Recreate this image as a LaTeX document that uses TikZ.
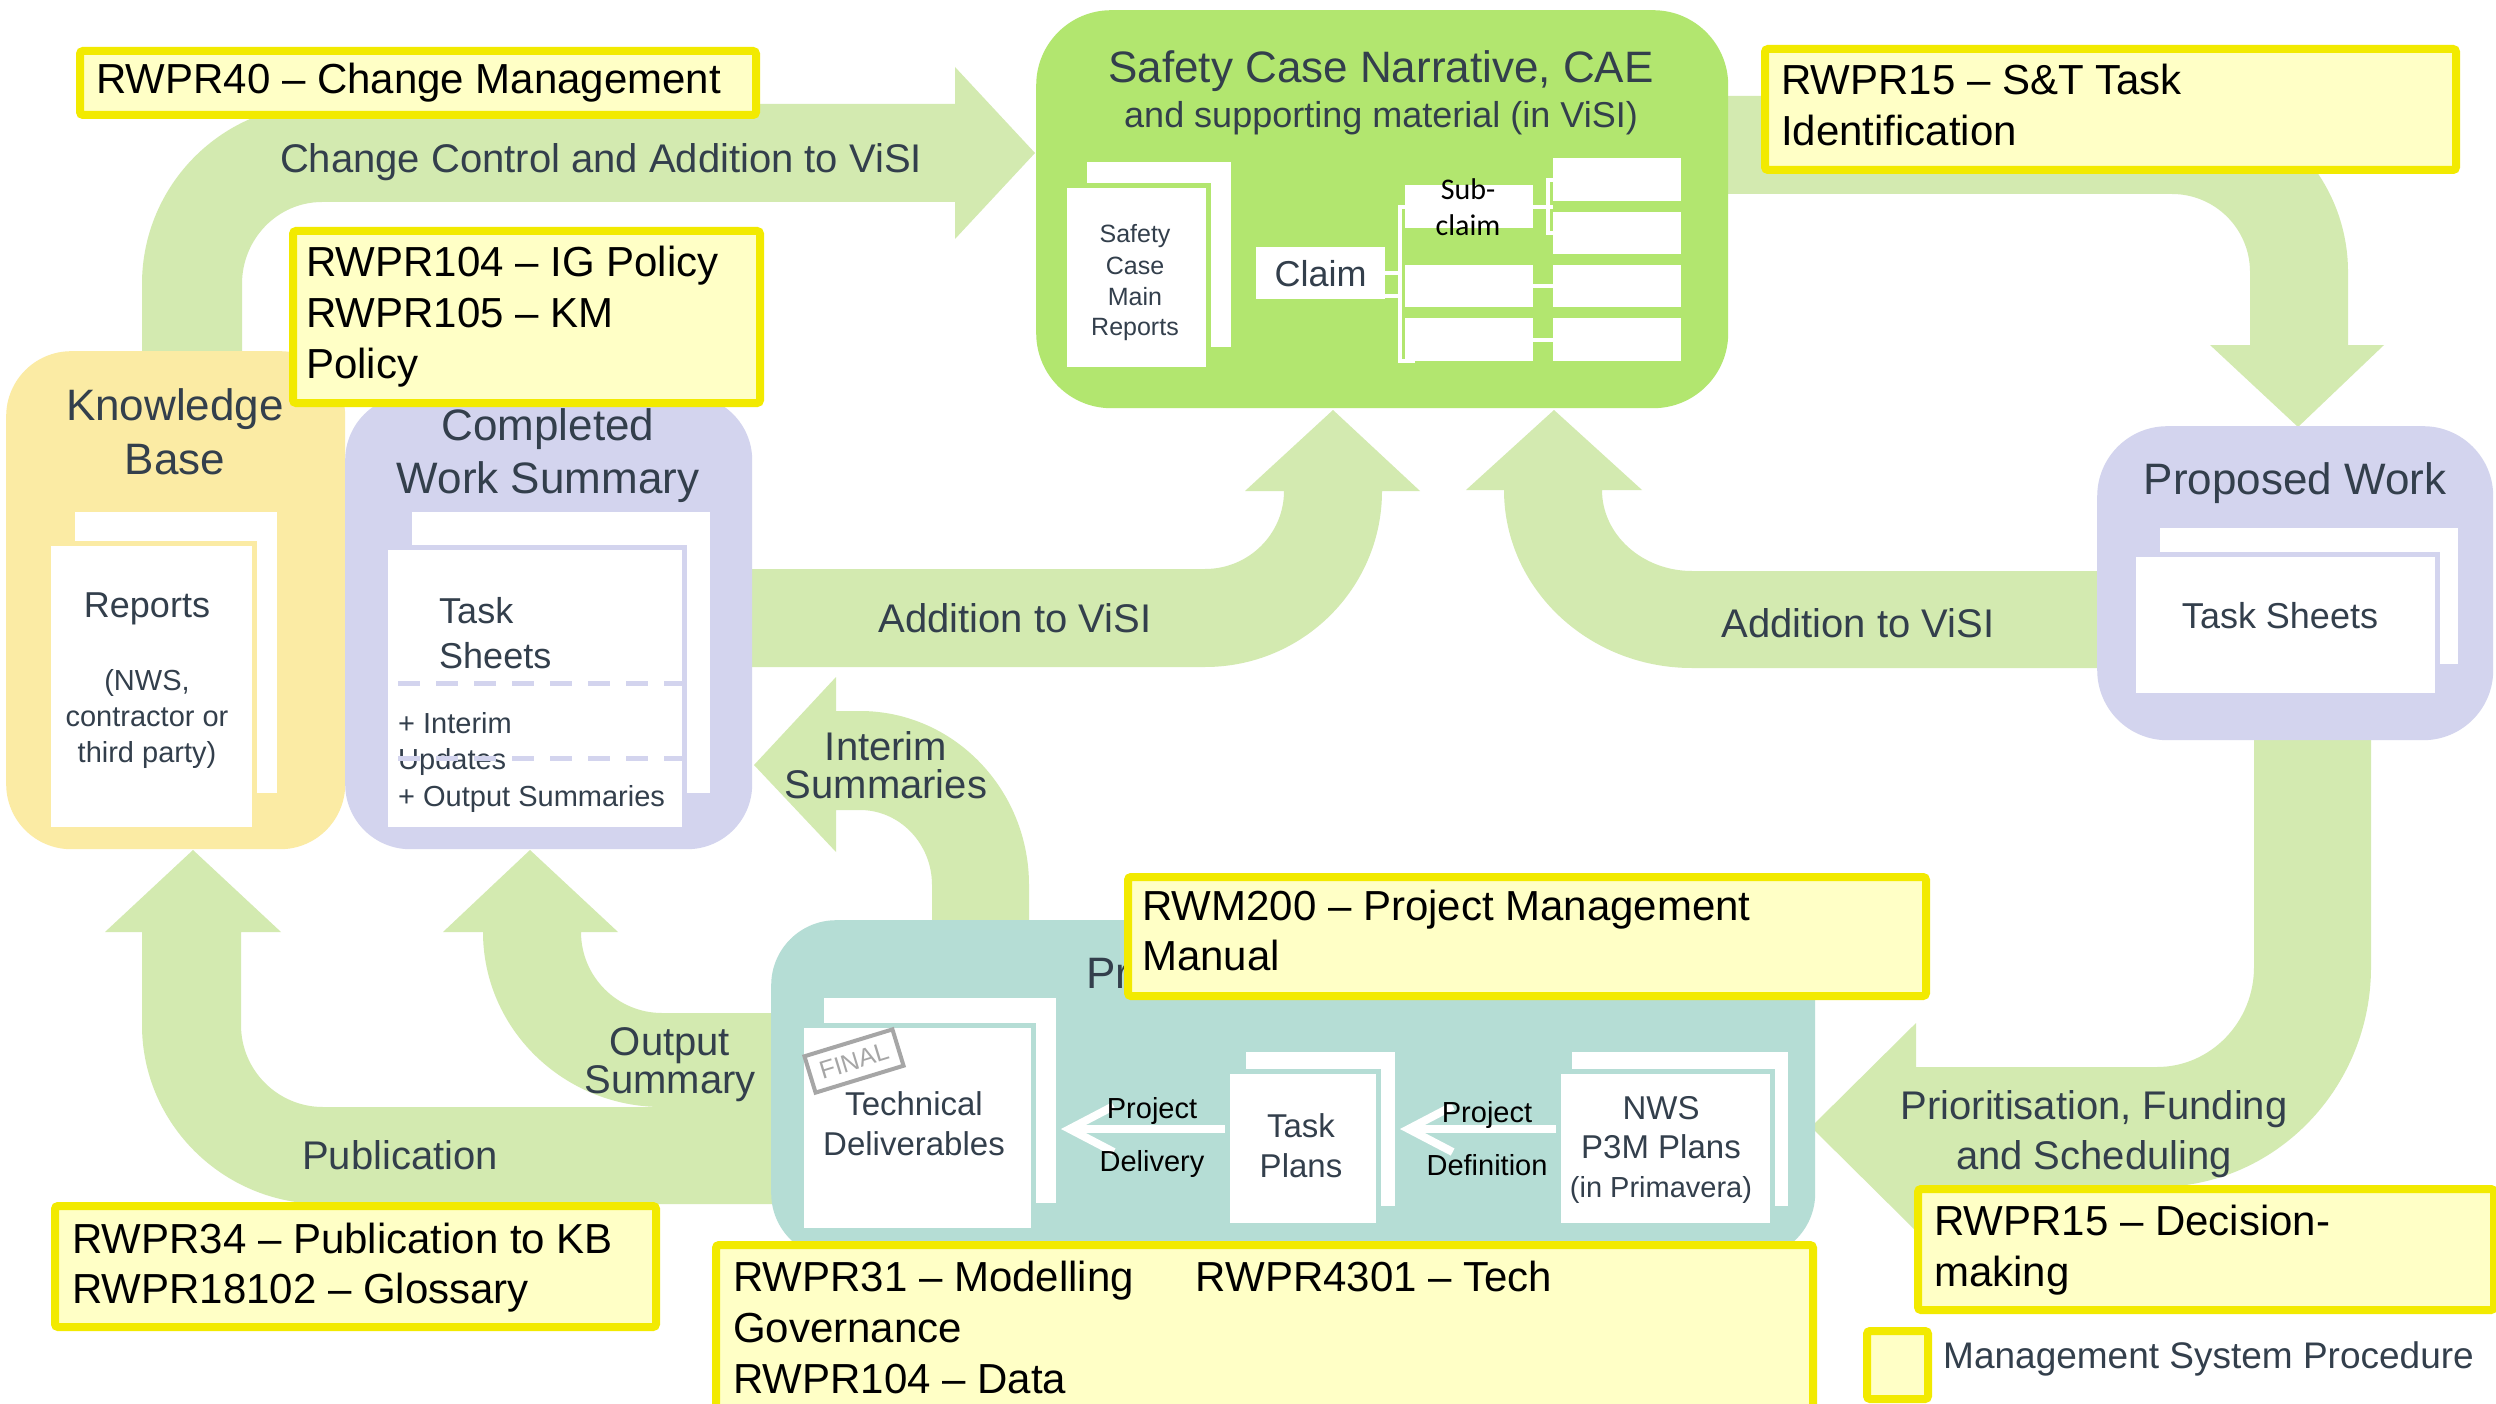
\documentclass[tikz,border=0pt]{standalone}
\usepackage{fontspec}
\setmainfont{Liberation Sans}
\newfontfamily\calibrifont{Carlito}
\usetikzlibrary{arrows.meta}

\definecolor{arrowgreen}{HTML}{D3EAB0}
\definecolor{safetygreen}{HTML}{B2E66F}
\definecolor{kbyellow}{HTML}{FBEBA4}
\definecolor{lavender}{HTML}{D3D4EE}
\definecolor{tealbox}{HTML}{B5DDD5}
\definecolor{mspfill}{HTML}{FFFFC6}
\definecolor{mspline}{HTML}{F2EA00}
\definecolor{slate}{HTML}{333F4C}
\definecolor{stampgray}{HTML}{A6A6A6}

\newcommand\fsz[2]{\fontsize{#1}{#2}\selectfont}

% Multi-line labels are anchored at the baseline of their last line.
\begin{document}
\begin{tikzpicture}[x=1pt,y=-1pt,
  band/.style={fill=arrowgreen, draw=none},
  panel/.style={draw=none, inner sep=0pt, anchor=north west},
  sheet/.style={fill=white, draw=none, inner sep=0pt, anchor=north west},
  frontsheet/.style={sheet, draw=#1, line width=5pt},
  msp/.style={fill=mspfill, draw=mspline, line width=8pt, rounded corners=3pt, inner sep=0pt, anchor=north west},
  lbl/.style={text=slate, inner sep=0pt, anchor=base},
  blk/.style={text=black, inner sep=0pt, anchor=base},
  mspt/.style={text=black, inner sep=0pt, anchor=base west, align=left, font=\fsz{42}{51}},
  tree/.style={draw=white, line width=4pt},
  sepline/.style={draw=lavender, line width=5pt, dash pattern=on 22pt off 16pt},
  whitearrow/.style={draw=white, line width=8pt, -{Straight Barb[length=44pt, width=46pt]}}
]
\useasboundingbox (0,0) rectangle (2496,1404);
\clip (0,0) rectangle (2496,1404);
\fill[white] (0,0) rectangle (2496,1404);

% ---------- broad flow arrows ----------
% Knowledge Base -> Safety Case (change control)
\fill[band] (142,400) -- (142,284) .. controls (142,184.6) and (222.6,104) .. (322,104)
  -- (955,104) -- (955,67) -- (1035,153) -- (955,239) -- (955,202) -- (322,202)
  .. controls (277.8,202) and (242,238.7) .. (242,284) -- (242,400) -- cycle;
% Safety Case -> Proposed Work
\fill[band] (1700,96) -- (2172,96) .. controls (2269.2,96) and (2348,174.8) .. (2348,272)
  -- (2348,345) -- (2384,345) -- (2298,427) -- (2210,345) -- (2250,345) -- (2250,272)
  .. controls (2250,228.9) and (2215.1,194) .. (2172,194) -- (1700,194) -- cycle;
% Proposed Work -> Safety Case
\fill[band] (2120,571) -- (1692,571) .. controls (1642.3,571) and (1602,534.7) .. (1602,490)
  -- (1642,490) -- (1554,410) -- (1466,490) -- (1504,490)
  .. controls (1504,588.3) and (1588.2,668) .. (1692,668) -- (2120,668) -- cycle;
% Completed Work Summary -> Safety Case
\fill[band] (740,569) -- (1205,569) .. controls (1248.6,569) and (1284,534.1) .. (1284,491)
  -- (1245,491) -- (1333,410) -- (1420,491) -- (1382,491)
  .. controls (1382,588.2) and (1302.7,667) .. (1205,667) -- (740,667) -- cycle;
% Project -> Completed Work Summary (interim)
\fill[band] (932,940) -- (932,885) .. controls (932,843.6) and (899.7,810) .. (860,810)
  -- (836,810) -- (836,852) -- (754,765) -- (836,677) -- (836,711) -- (860,711)
  .. controls (953.3,711) and (1029,789) .. (1029,885) -- (1029,940) -- cycle;
% Proposed Work -> Project
\fill[band] (2254,720) -- (2254,967) .. controls (2254,1022.2) and (2210.5,1067) .. (2157,1067)
  -- (1916,1067) -- (1916,1023) -- (1811,1127) -- (1916,1231) -- (1916,1187) -- (2157,1187)
  .. controls (2275.1,1187) and (2371,1088.4) .. (2371,967) -- (2371,720) -- cycle;
% Project -> Knowledge Base (publication)
\fill[band] (830,1107) -- (323,1107) .. controls (277.7,1107) and (241,1070.3) .. (241,1025)
  -- (241,932) -- (281,932) -- (193,850) -- (105,932) -- (142,932) -- (142,1025)
  .. controls (142,1123.8) and (223.1,1204) .. (323,1204) -- (830,1204) -- cycle;
% Project -> Completed Work Summary (output summary)
\fill[band] (790,1013) -- (662,1013) .. controls (617.3,1013) and (581,976.7) .. (581,932)
  -- (618,932) -- (530,850) -- (443,932) -- (483,932)
  .. controls (483,1028.6) and (563.2,1107) .. (662,1107) -- (790,1107) -- cycle;

% ---------- panels ----------
\node[panel, fill=safetygreen, rounded corners=75pt, minimum width=692pt, minimum height=398pt] (safety) at (1036,10) {};
\node[panel, fill=kbyellow, rounded corners=65pt, minimum width=339pt, minimum height=498pt] (kb) at (6,351) {};
\node[panel, fill=lavender, rounded corners=65pt, minimum width=407pt, minimum height=454pt] (cws) at (345,395) {};
\node[panel, fill=lavender, rounded corners=70pt, minimum width=396pt, minimum height=314pt] (pw) at (2097,426) {};
\node[panel, fill=tealbox, rounded corners=65pt, minimum width=1044pt, minimum height=338pt] (proj) at (771,920) {};

% ---------- document sheets ----------
\node[sheet, minimum width=202pt, minimum height=281pt] (kbback) at (75,512) {};
\node[frontsheet=kbyellow, minimum width=206pt, minimum height=286pt] (kbfront) at (46,541) {};
\node[sheet, minimum width=298pt, minimum height=281pt] (cwsback) at (412,512) {};
\node[frontsheet=lavender, minimum width=299pt, minimum height=282pt] (cwsfront) at (383,545) {};
\node[sheet, minimum width=144pt, minimum height=185pt] (scback) at (1087,162) {};
\node[frontsheet=safetygreen, minimum width=144pt, minimum height=184pt] (scfront) at (1062,183) {};
\node[sheet, minimum width=298pt, minimum height=136pt] (pwback) at (2160,528) {};
\node[frontsheet=lavender, minimum width=304pt, minimum height=141pt] (pwfront) at (2131,552) {};
\node[sheet, minimum width=232pt, minimum height=205pt] (tdback) at (824,998) {};
\node[frontsheet=tealbox, minimum width=232pt, minimum height=205pt] (tdfront) at (799,1023) {};
\node[sheet, minimum width=149pt, minimum height=154pt] (tpback) at (1246,1052) {};
\node[frontsheet=tealbox, minimum width=151pt, minimum height=154pt] (tpfront) at (1225,1069) {};
\node[sheet, minimum width=216pt, minimum height=154pt] (nwsback) at (1572,1052) {};
\node[frontsheet=tealbox, minimum width=214pt, minimum height=154pt] (nwsfront) at (1556,1069) {};

% ---------- claim tree ----------
\node[sheet, minimum width=129pt, minimum height=52pt, text=slate, font=\fsz{36}{43}] (claim) at (1256,247) {Claim};
\node[sheet, minimum width=128pt, minimum height=43pt] (c1r1) at (1405,185) {};
\node[sheet, minimum width=128pt, minimum height=42pt] (c1r2) at (1405,265) {};
\node[sheet, minimum width=128pt, minimum height=43pt] (c1r3) at (1405,318) {};
\node[sheet, minimum width=128pt, minimum height=43pt] (c2r1) at (1553,158) {};
\node[sheet, minimum width=128pt, minimum height=42pt] (c2r2) at (1553,212) {};
\node[sheet, minimum width=128pt, minimum height=42pt] (c2r3) at (1553,265) {};
\node[sheet, minimum width=128pt, minimum height=43pt] (c2r4) at (1553,318) {};
\draw[tree] (claim.east) -- ++(15,0);
\draw[tree] (claim.east) ++(0,23) -- ++(15,0);
\draw[tree] (c1r1.west) -- ++(-5,0) |- ([xshift=10pt]c1r3.south west);
\draw[tree] (c1r1.east) -- (c1r1.east -| c2r1.west);
\draw[tree] (c2r1.west) -- ++(-5,0) |- (c2r2.west);
\draw[tree] (c1r2.east) -- (c2r3.west);
\draw[tree] (c1r3.east) -- (c2r4.west);
\node[blk, align=center, font=\calibrifont\fsz{30}{36}] (subclaim) at (1468,236) {Sub-\\claim};

% ---------- texts ----------
\node[lbl, font=\fsz{44}{53}] (sctitle) at (1381,83) {Safety Case Narrative, CAE};
\node[lbl, font=\fsz{36}{44}] (scsub) at (1381,128) {and supporting material (in ViSI)};
\node[lbl, align=center, font=\fsz{25}{31}] (scmain) at (1135,336) {Safety\\Case\\Main\\Reports};

\node[lbl, font=\fsz{40}{48}] (cctext) at (601,173) {Change Control and Addition to ViSI};
\node[lbl, align=center, font=\fsz{44}{54}] (kbtitle) at (175,474) {Knowledge\\Base};
\node[lbl, align=center, font=\fsz{44}{53}] (cwstitle) at (548,493) {Completed\\Work Summary};
\node[lbl, font=\fsz{36}{43}] (kbrep) at (147,617) {Reports};
\node[lbl, align=center, font=\fsz{29}{36}] (kbsrc) at (147,762) {(NWS,\\contractor or\\third party)};
\node[lbl, anchor=base west, align=left, font=\fsz{36}{45}] (cwsts) at (439,668) {Task\\Sheets};
\node[lbl, anchor=base west, align=left, font=\fsz{29}{36.5}] (cwsupd) at (398,806) {+ Interim\\Updates\\+ Output Summaries};
\draw[sepline] (398,683) -- (682,683);
\draw[sepline] (398,758) -- (682,758);

\node[lbl, font=\fsz{40}{48}] (addl) at (1015,632) {Addition to ViSI};
\node[lbl, font=\fsz{40}{48}] (addr) at (1858,637) {Addition to ViSI};
\node[lbl, align=center, font=\fsz{40}{38}] (interim) at (886,798) {Interim\\Summaries};
\node[lbl, font=\fsz{44}{53}] (pwtitle) at (2295,494) {Proposed Work};
\node[lbl, font=\fsz{36}{43}] (pwts) at (2280,628) {Task Sheets};
\node[lbl, align=center, font=\fsz{40}{50}] (prio) at (2094,1169) {Prioritisation, Funding\\and Scheduling};
\node[lbl, align=center, font=\fsz{40}{38}] (outsum) at (670,1093) {Output\\Summary};
\node[lbl, font=\fsz{40}{48}] (pubtext) at (400,1169) {Publication};

% project panel contents
\node[lbl, anchor=base west, font=\fsz{44}{53}] (projtitle) at (1086,988) {Project Management};
\node[lbl, align=center, font=\fsz{33}{40}] (tdtext) at (914,1155) {Technical\\Deliverables};
\node[draw=stampgray, line width=4pt, text=stampgray, rotate=17, font=\fsz{25}{30},
      minimum width=92pt, minimum height=38pt, inner sep=0pt] (stamp) at (854,1061) {FINAL};
\node[lbl, align=center, font=\fsz{33}{40}] (tptext) at (1301,1177) {Task\\Plans};
\node[lbl, align=center, font=\fsz{33}{39}] (nwstext) at (1661,1197) {NWS\\P3M Plans\\{\fsz{29}{39}(in Primavera)}};
\coordinate (pdtip) at (1061,1129);
\coordinate (pftip) at (1400,1129);
\draw[whitearrow] (tpfront.west |- pdtip) -- (pdtip);
\draw[whitearrow] (nwsfront.west |- pftip) -- (pftip);
\node[blk, align=center, font=\fsz{29}{53}] (pdtext) at (1152,1171) {Project\\Delivery};
\node[blk, align=center, font=\fsz{29}{53}] (pftext) at (1487,1175) {Project\\Definition};

% ---------- management system procedures ----------
\node[msp, minimum width=676pt, minimum height=64pt] (rwpr40) at (76,47) {};
\node[mspt] (rwpr40t) at (96,94) {RWPR40 – Change Management};
\node[msp, minimum width=467pt, minimum height=172pt] (rwpr104) at (289,227) {};
\node[mspt] (rwpr104t) at (306,378) {RWPR104 – IG Policy\\RWPR105 – KM\\Policy};
\node[msp, minimum width=691pt, minimum height=121pt] (rwpr15a) at (1761,45) {};
\node[mspt] (rwpr15at) at (1781,146) {RWPR15 – S\&T Task\\Identification};
\node[msp, minimum width=798pt, minimum height=119pt] (rwm200) at (1124,873) {};
\node[mspt, font=\fsz{42}{50}] (rwm200t) at (1142,970) {RWM200 – Project Management\\Manual};
\node[msp, minimum width=576pt, minimum height=121pt] (rwpr15b) at (1914,1185) {};
\node[mspt] (rwpr15bt) at (1934,1286) {RWPR15 – Decision-\\making};
\node[msp, minimum width=601pt, minimum height=121pt] (rwpr34) at (51,1202) {};
\node[mspt, font=\fsz{42}{50}] (rwpr34t) at (72,1303) {RWPR34 – Publication to KB\\RWPR18102 – Glossary};
\node[msp, minimum width=1097pt, minimum height=230pt] (rwpr31) at (712,1241) {};
\node[mspt] (rwpr31t) at (733,1393) {RWPR31 – Modelling\hspace{62pt}RWPR4301 – Tech\\Governance\\RWPR104 – Data};

% legend
\node[msp, minimum width=61pt, minimum height=68pt] (legendbox) at (1863,1327) {};
\node[lbl, anchor=base west, font=\fsz{37}{44}] (legendtext) at (1943,1368) {Management System Procedure};
\end{tikzpicture}
\end{document}
